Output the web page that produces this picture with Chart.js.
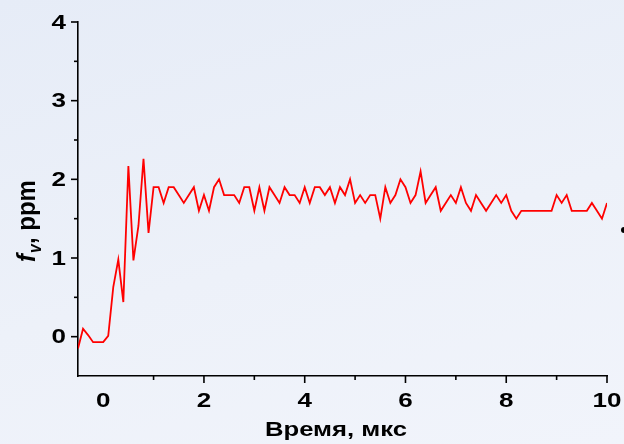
<!DOCTYPE html>
<html>
<head>
<meta charset="utf-8">
<script src="https://cdn.jsdelivr.net/npm/chart.js@4/dist/chart.umd.min.js"></script>
<style>
  html, body {
    margin: 0; padding: 0; width: 624px; height: 444px; overflow: hidden;
    background: linear-gradient(165deg, #e6ecf7 0%, #edf1f9 55%, #f1f4fb 100%);
  }
  canvas { display: block; }
</style>
</head>
<body>
<canvas id="c" width="624" height="444"></canvas>
<script>
// Time axis, microseconds
const timeUs = [
  -0.5, -0.4, -0.3, -0.2, -0.1, 0.0, 0.1, 0.2, 0.3, 0.4,
  0.5, 0.6, 0.7, 0.8, 0.9, 1.0, 1.1, 1.2, 1.3, 1.4,
  1.5, 1.6, 1.7, 1.8, 1.9, 2.0, 2.1, 2.2, 2.3, 2.4,
  2.5, 2.6, 2.7, 2.8, 2.9, 3.0, 3.1, 3.2, 3.3, 3.4,
  3.5, 3.6, 3.7, 3.8, 3.9, 4.0, 4.1, 4.2, 4.3, 4.4,
  4.5, 4.6, 4.7, 4.8, 4.9, 5.0, 5.1, 5.2, 5.3, 5.4,
  5.5, 5.6, 5.7, 5.8, 5.9, 6.0, 6.1, 6.2, 6.3, 6.4,
  6.5, 6.6, 6.7, 6.8, 6.9, 7.0, 7.1, 7.2, 7.3, 7.4,
  7.5, 7.6, 7.7, 7.8, 7.9, 8.0, 8.1, 8.2, 8.3, 8.4,
  8.5, 8.6, 8.7, 8.8, 8.9, 9.0, 9.1, 9.2, 9.3, 9.4,
  9.5, 9.6, 9.7, 9.8, 9.9, 10.0
];

// Soot volume fraction f_v, ppm
const fvPpm = [
  -0.15, 0.10, 0.02, -0.07, -0.07, -0.07, 0.01, 0.63, 0.98, 0.44,
  2.17, 0.97, 1.41, 2.26, 1.32, 1.9, 1.9, 1.7, 1.9, 1.9,
  1.8, 1.7, 1.8, 1.9, 1.6, 1.8, 1.6, 1.9, 2.0, 1.8,
  1.8, 1.8, 1.7, 1.9, 1.9, 1.6, 1.9, 1.6, 1.9, 1.8,
  1.7, 1.9, 1.8, 1.8, 1.7, 1.9, 1.7, 1.9, 1.9, 1.8,
  1.9, 1.7, 1.9, 1.8, 2.0, 1.7, 1.8, 1.7, 1.8, 1.8,
  1.5, 1.9, 1.7, 1.8, 2.0, 1.9, 1.7, 1.8, 2.1, 1.7,
  1.8, 1.9, 1.6, 1.7, 1.8, 1.7, 1.9, 1.7, 1.6, 1.8,
  1.7, 1.6, 1.7, 1.8, 1.7, 1.8, 1.6, 1.5, 1.6, 1.6,
  1.6, 1.6, 1.6, 1.6, 1.6, 1.8, 1.7, 1.8, 1.6, 1.6,
  1.6, 1.6, 1.7, 1.6, 1.5, 1.7
];

// Labelled ticks
const xTickLabels = [0, 2, 4, 6, 8, 10];
const yTickLabels = [0, 1, 2, 3, 4];

const xTitle = 'Время, мкс';
const yTitleMain = 'f';
const yTitleSub = 'v';
const yTitleRest = ', ppm';

const FONT = '"Liberation Sans", Arial, sans-serif';

// Draws tick marks, tick labels and axis titles using the chart's own scales
const axisDecor = {
  id: 'axisDecor',
  afterDraw(chart) {
    const ctx = chart.ctx;
    const xs = chart.scales.x, ys = chart.scales.y;
    const area = chart.chartArea;
    ctx.save();
    ctx.strokeStyle = '#000';
    ctx.fillStyle = '#000';
    ctx.lineWidth = 1.6;

    // y tick marks (major at integers, minor at halves)
    ys.ticks.forEach(t => {
      if (t.value <= ys.min) return;
      const py = ys.getPixelForValue(t.value);
      const len = Number.isInteger(t.value) ? 7 : 4;
      ctx.beginPath();
      ctx.moveTo(area.left, py);
      ctx.lineTo(area.left - len, py);
      ctx.stroke();
    });
    // x tick marks (major at even, minor at odd)
    xs.ticks.forEach(t => {
      if (t.value <= xs.min) return;
      const px = xs.getPixelForValue(t.value);
      const len = (Math.round(t.value) % 2 === 0) ? 7 : 4;
      ctx.beginPath();
      ctx.moveTo(px, area.bottom);
      ctx.lineTo(px, area.bottom + len);
      ctx.stroke();
    });

    // tick labels
    ctx.font = 'bold 20px ' + FONT;
    ctx.textBaseline = 'middle';
    ctx.textAlign = 'right';
    yTickLabels.forEach(v => {
      const py = ys.getPixelForValue(v);
      ctx.save();
      ctx.translate(area.left - 12, py + 1);
      ctx.scale(1.3, 1);
      ctx.fillText(String(v), 0, 0);
      ctx.restore();
    });
    ctx.textBaseline = 'alphabetic';
    ctx.textAlign = 'center';
    xTickLabels.forEach(v => {
      const px = xs.getPixelForValue(v);
      ctx.save();
      ctx.translate(px, area.bottom + 30.5);
      ctx.scale(1.3, 1);
      ctx.fillText(String(v), 0, 0);
      ctx.restore();
    });

    // x title
    ctx.font = 'bold 21px ' + FONT;
    const tw = ctx.measureText(xTitle).width;
    ctx.save();
    ctx.translate(336, 436);
    ctx.scale(142 / tw, 1);
    ctx.fillText(xTitle, 0, 0);
    ctx.restore();

    // y title, rotated, with italic f and subscript v
    ctx.save();
    ctx.translate(35, 262);
    ctx.rotate(-Math.PI / 2);
    ctx.scale(1, 1.1);
    ctx.textAlign = 'left';
    ctx.textBaseline = 'alphabetic';
    ctx.font = 'italic bold 24px ' + FONT;
    ctx.fillText(yTitleMain, 0, 0);
    let off = ctx.measureText(yTitleMain).width + 1;
    ctx.font = 'italic bold 16px ' + FONT;
    ctx.fillText(yTitleSub, off, 5);
    off += ctx.measureText(yTitleSub).width;
    ctx.font = 'bold 24px ' + FONT;
    ctx.fillText(yTitleRest, off, 0);
    ctx.restore();

    // small dark mark at the right edge
    ctx.beginPath();
    ctx.arc(624, 230, 3, 0, Math.PI * 2);
    ctx.fill();

    ctx.restore();
  }
};

new Chart(document.getElementById('c').getContext('2d'), {
  type: 'line',
  data: {
    datasets: [{
      data: timeUs.map((t, i) => ({ x: t, y: fvPpm[i] })),
      borderColor: '#ff0000',
      borderWidth: 1.8,
      pointRadius: 0,
      tension: 0,
      fill: false
    }]
  },
  options: {
    responsive: false,
    animation: false,
    devicePixelRatio: 1,
    layout: { padding: { top: 22, right: 17, left: 0, bottom: 0 } },
    plugins: { legend: { display: false }, tooltip: { enabled: false } },
    scales: {
      x: {
        type: 'linear', min: -0.5, max: 10,
        ticks: { stepSize: 1, display: false },
        grid: { display: false },
        border: { display: true, color: '#000', width: 1.6 },
        afterFit(s) { s.height = 68; }
      },
      y: {
        type: 'linear', min: -0.5, max: 4,
        ticks: { stepSize: 0.5, display: false },
        grid: { display: false },
        border: { display: true, color: '#000', width: 1.6 },
        afterFit(s) { s.width = 78; }
      }
    }
  },
  plugins: [axisDecor]
});
</script>
</body>
</html>
